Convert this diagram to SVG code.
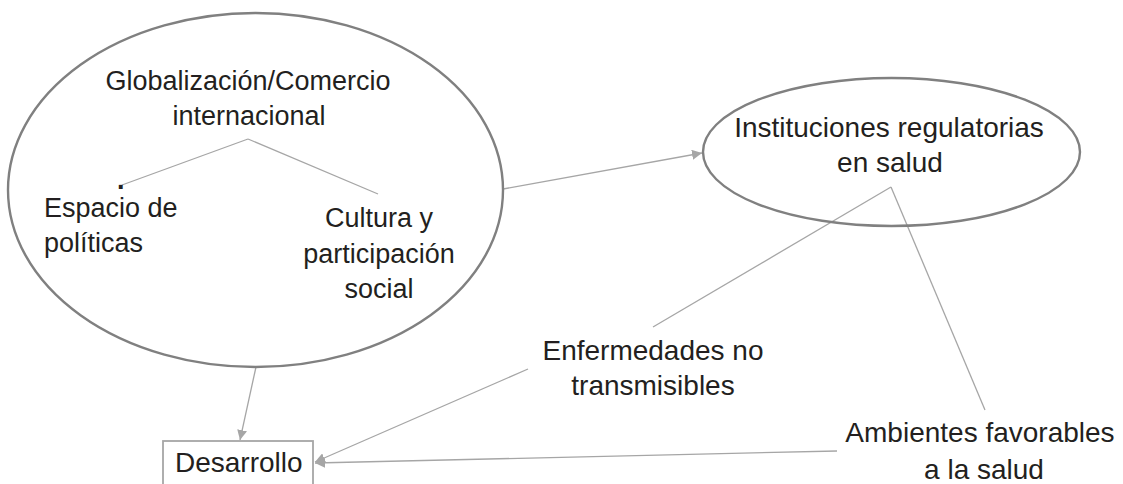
<svg xmlns="http://www.w3.org/2000/svg" width="1123" height="484" viewBox="0 0 1123 484">
<style>
.t{font-family:"Liberation Sans",Arial,sans-serif;font-size:27px;fill:#231f20}
.r{font-size:28px}
.m{text-anchor:middle}
.ell{fill:none;stroke:#808080;stroke-width:2.4}
.box{fill:#fff;stroke:#a6a6a6;stroke-width:1.8}
.ln{fill:none;stroke:#a6a6a6;stroke-width:1.3}
</style>
<defs>
<marker id="ah" viewBox="0 0 10 10" refX="10" refY="5" markerWidth="10" markerHeight="10" markerUnits="userSpaceOnUse" orient="auto">
<path d="M0,0 L10,5 L0,10 z" fill="#a6a6a6"/>
</marker>
</defs>
<rect width="1123" height="484" fill="#fff"/>
<g id="connectors">
<line class="ln" x1="248" y1="139" x2="122" y2="185"/>
<line class="ln" x1="248" y1="139" x2="378" y2="194"/>
<line class="ln" x1="503" y1="189" x2="702" y2="153" marker-end="url(#ah)"/>
<line class="ln" x1="891" y1="187" x2="653" y2="327"/>
<line class="ln" x1="891" y1="187" x2="985" y2="410"/>
<line class="ln" x1="528" y1="369" x2="315" y2="462" marker-end="url(#ah)"/>
<line class="ln" x1="837" y1="451" x2="315" y2="463" marker-end="url(#ah)"/>
<line class="ln" x1="256" y1="367" x2="240" y2="440" marker-end="url(#ah)"/>
</g>
<g id="globalizacion">
<ellipse class="ell" cx="255.5" cy="190" rx="247.5" ry="177"/>
<text class="t m" x="248" y="90">Globalización/Comercio</text>
<text class="t m" x="249" y="125">internacional</text>
<text class="t" x="117" y="189" font-size="16" font-weight="bold">.</text>
</g>
<g id="espacio">
<text class="t" x="44" y="217">Espacio de</text>
<text class="t" x="44" y="252">políticas</text>
</g>
<g id="cultura">
<text class="t m" x="379" y="227">Cultura y</text>
<text class="t m" x="379" y="263">participación</text>
<text class="t m" x="379" y="298">social</text>
</g>
<g id="instituciones">
<ellipse class="ell" cx="891.5" cy="152" rx="188.5" ry="74"/>
<text class="t r m" x="889" y="137" font-size="28.5">Instituciones regulatorias</text>
<text class="t r m" x="890" y="172" font-size="28.5">en salud</text>
</g>
<g id="enfermedades">
<text class="t r m" x="653" y="360">Enfermedades no</text>
<text class="t r m" x="653" y="395">transmisibles</text>
</g>
<g id="ambientes">
<text class="t r m" x="980" y="442" font-size="27.5">Ambientes favorables</text>
<text class="t r m" x="984" y="479" font-size="27.5">a la salud</text>
</g>
<g id="desarrollo">
<rect class="box" x="163" y="441" width="150" height="52"/>
<text class="t r" x="175" y="472">Desarrollo</text>
</g>
</svg>
